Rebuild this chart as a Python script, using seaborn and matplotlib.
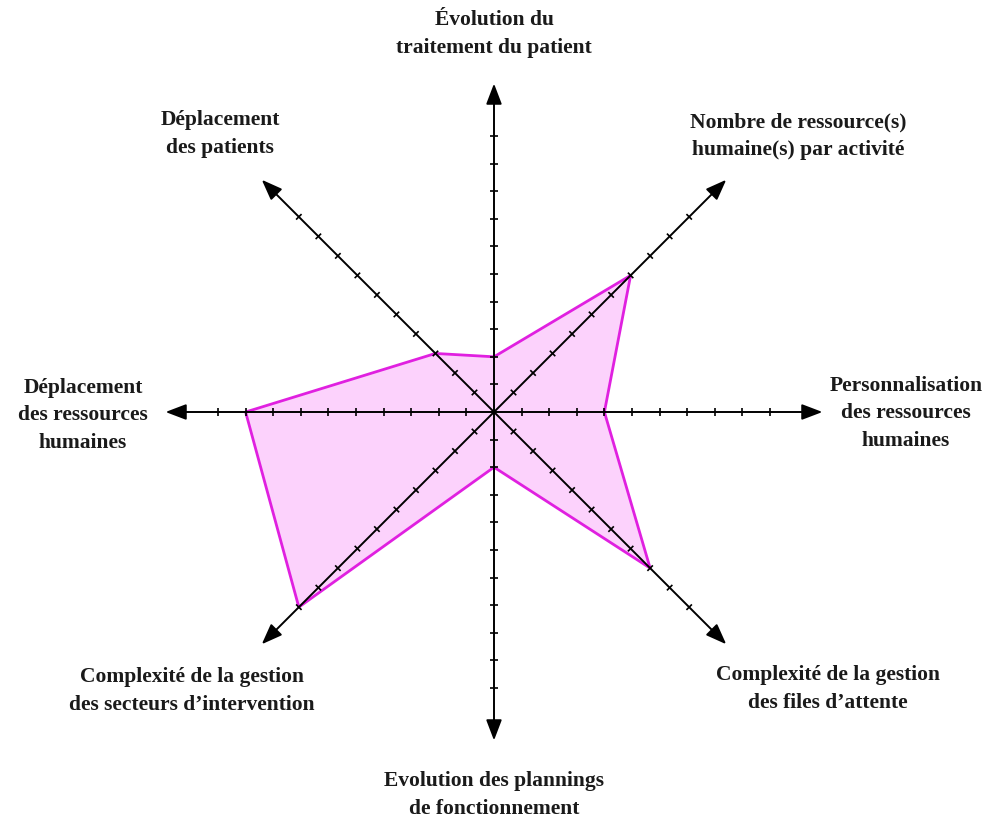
import numpy as np
import matplotlib
matplotlib.use("Agg")
import matplotlib.pyplot as plt
from matplotlib.collections import LineCollection
import seaborn as sns

# Axes of the star chart, counter-clockwise starting at the top
labels = [
    "Évolution du\ntraitement du patient",
    "Déplacement\ndes patients",
    "Déplacement\ndes ressources\nhumaines",
    "Complexité de la gestion\ndes secteurs d’intervention",
    "Evolution des plannings\nde fonctionnement",
    "Complexité de la gestion\ndes files d’attente",
    "Personnalisation\ndes ressources\nhumaines",
    "Nombre de ressource(s)\nhumaine(s) par activité",
]
angles_deg = [90, 135, 180, 225, 270, 315, 0, 45]
values = [2, 3, 9, 10, 2, 8, 4, 7]
ticks = list(range(1, 11))

# Layout (pixel positions of the label centres in the 1004x822 picture)
W, H = 1004, 822
CX, CY = 494, 412   # centre of the star, pixels
U = 27.6            # pixels per unit
AXIS_LEN = 11.9
label_px = [(494, 34), (220, 134), (83, 415), (192, 691),
            (494, 795), (828, 689), (906, 413), (798, 136)]

sns.set_theme(style="white")
plt.rcParams["font.family"] = ["Liberation Serif", "DejaVu Serif"]

fig = plt.figure(figsize=(W / 100, H / 100), dpi=100)
ax = fig.add_axes([0, 0, 1, 1])
ax.set_xlim(-CX / U, (W - CX) / U)
ax.set_ylim(-(H - CY) / U, CY / U)
ax.axis("off")

theta = np.deg2rad(angles_deg)
cos, sin = np.cos(theta), np.sin(theta)

# Filled profile
vals = np.array(values, dtype=float)
px = np.append(vals * cos, vals[0] * cos[0])
py = np.append(vals * sin, vals[0] * sin[0])
ax.fill(px, py, color="#FCD2FC", zorder=1, lw=0)
sns.lineplot(x=px, y=py, sort=False, estimator=None, color="#E020E0",
             lw=2.0, ax=ax, zorder=2)

# Axes with arrows and tick marks
segs = []
for c, s in zip(cos, sin):
    ax.annotate("", xy=(AXIS_LEN * c, AXIS_LEN * s), xytext=(0, 0),
                arrowprops=dict(arrowstyle="-|>,head_length=1.05,head_width=0.4",
                                color="black", lw=1.4, shrinkA=0, shrinkB=0),
                zorder=3)
    for k in ticks:
        x0, y0 = k * c, k * s
        segs.append([(x0 - 0.14 * s, y0 + 0.14 * c), (x0 + 0.14 * s, y0 - 0.14 * c)])
ax.add_collection(LineCollection(segs, colors="black", linewidths=1.2, zorder=3))

# Axis labels
for lab, (lx, ly) in zip(labels, label_px):
    ax.text((lx - CX) / U, (CY - ly) / U, lab, ha="center", va="center",
            fontsize=15.5, fontweight="bold", color="#1a1a1a", linespacing=1.5)

fig.savefig("out.png", dpi=100)
